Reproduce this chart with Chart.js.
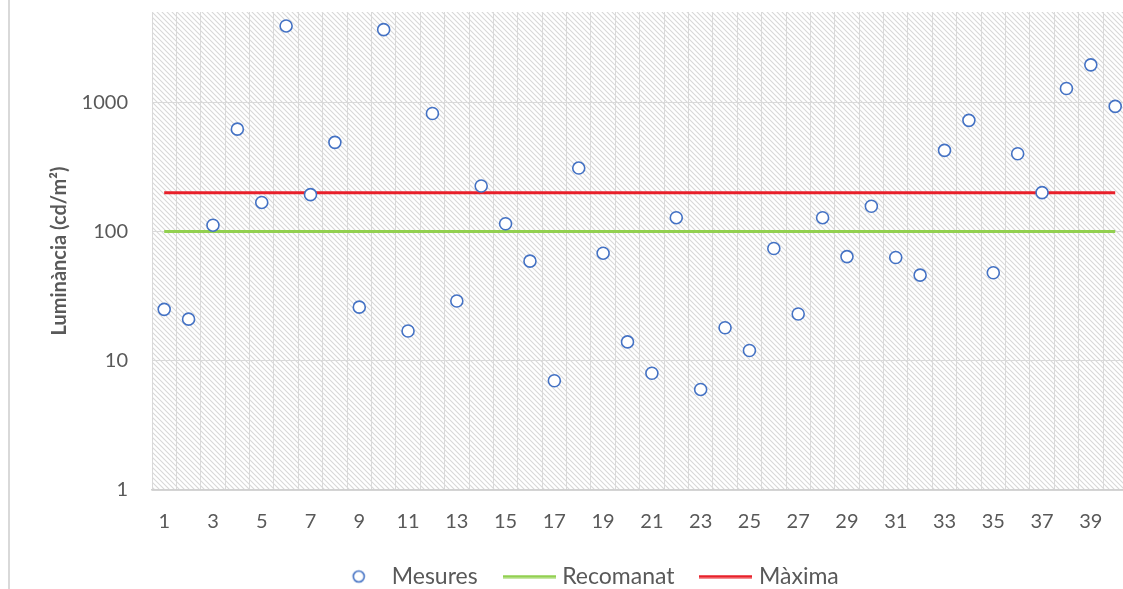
<!DOCTYPE html>
<html>
<head>
<meta charset="utf-8">
<script src="https://cdn.jsdelivr.net/npm/chart.js@4"></script>
<style>
    html, body { margin: 0; padding: 0; background: #fff; overflow: hidden; }
    #wrap { position: relative; width: 1135px; height: 598px; }
</style>
</head>
<body>
<div id="wrap"><canvas id="myChart" width="1135" height="598"></canvas></div>
<script>
// categories (measurement number)
let categories = [1, 2, 3, 4, 5, 6, 7, 8, 9, 10, 11, 12, 13, 14, 15, 16, 17, 18, 19, 20,
    21, 22, 23, 24, 25, 26, 27, 28, 29, 30, 31, 32, 33, 34, 35, 36, 37, 38, 39, 40];

// luminance readings, cd/m2
let mesures = [25, 21, 112, 620, 168, 3900, 193, 490, 26, 3650, 17, 820, 29, 225, 115, 59, 7, 310, 68, 14,
    8, 128, 6, 18, 12, 74, 23, 128, 64, 157, 63, 46, 425, 725, 48, 400, 200, 1280, 1950, 930];

let recomanat = [100, 100, 100, 100, 100, 100, 100, 100, 100, 100, 100, 100, 100, 100, 100, 100, 100, 100, 100, 100,
    100, 100, 100, 100, 100, 100, 100, 100, 100, 100, 100, 100, 100, 100, 100, 100, 100, 100, 100, 100];
let maxima = [200, 200, 200, 200, 200, 200, 200, 200, 200, 200, 200, 200, 200, 200, 200, 200, 200, 200, 200, 200,
    200, 200, 200, 200, 200, 200, 200, 200, 200, 200, 200, 200, 200, 200, 200, 200, 200, 200, 200, 200];

let yTicks = [1, 10, 100, 1000];
let yMin = 1;
let yMax = 5000;

const blue = '#4472C4';
const green = '#92D050';
const red = '#E8202A';
const textGray = '#595959';

// small canvases used as legend symbols
function makeCircle() {
    const c = document.createElement('canvas');
    c.width = 16; c.height = 16;
    const g = c.getContext('2d');
    g.beginPath();
    g.arc(8, 8, 5.5, 0, Math.PI * 2);
    g.fillStyle = '#fff';
    g.fill();
    g.lineWidth = 1.6;
    g.strokeStyle = blue;
    g.stroke();
    return c;
}
function makeLine(color) {
    const c = document.createElement('canvas');
    c.width = 53; c.height = 4;
    const g = c.getContext('2d');
    g.fillStyle = color;
    g.fillRect(0, 0.5, 53, 3);
    return c;
}

// hatched plot background
function makeHatch(ctx) {
    const p = document.createElement('canvas');
    p.width = 5; p.height = 5;
    const g = p.getContext('2d');
    g.fillStyle = '#fff';
    g.fillRect(0, 0, 5, 5);
    g.strokeStyle = '#d8d8d8';
    g.lineWidth = 1.1;
    g.beginPath();
    g.moveTo(-1, -1); g.lineTo(6, 6);
    g.moveTo(-4, 1); g.lineTo(4, 9);
    g.moveTo(1, -4); g.lineTo(9, 4);
    g.stroke();
    return ctx.createPattern(p, 'repeat');
}

const backdrop = {
    id: 'backdrop',
    beforeDraw(chart) {
        const { ctx, chartArea: a } = chart;
        ctx.save();
        ctx.fillStyle = makeHatch(ctx);
        ctx.fillRect(a.left, a.top, a.right - a.left, a.bottom - a.top);
        // left border of the original chart frame
        ctx.strokeStyle = '#d9d9d9';
        ctx.lineWidth = 2;
        ctx.beginPath();
        ctx.moveTo(9, 0);
        ctx.lineTo(9, chart.height);
        ctx.stroke();
        ctx.restore();
    }
};

const symbols = [makeCircle(), makeLine(green), makeLine(red)];

window.addEventListener("DOMContentLoaded", () => {
    const ctx = document.getElementById('myChart');

    new Chart(ctx, {
        type: 'line',
        data: {
            labels: categories,
            datasets: [{
                label: 'Mesures',
                data: mesures,
                showLine: false,
                pointRadius: 6,
                pointBorderWidth: 1.6,
                pointBorderColor: blue,
                pointBackgroundColor: '#fff',
                borderColor: blue,
                order: 0
            }, {
                label: 'Recomanat',
                data: recomanat,
                borderColor: green,
                borderWidth: 3,
                pointRadius: 0,
                order: 1
            }, {
                label: 'Màxima',
                data: maxima,
                borderColor: red,
                borderWidth: 3,
                pointRadius: 0,
                order: 1
            }]
        },
        options: {
            responsive: false,
            animation: false,
            layout: { padding: { left: 48, right: 7, top: 0, bottom: 0 } },
            plugins: {
                tooltip: { enabled: false },
                legend: {
                    position: 'bottom',
                    labels: {
                        usePointStyle: true,
                        pointStyleWidth: 43,
                        padding: 30,
                        color: textGray,
                        font: { family: 'Lato', size: 23 },
                        generateLabels: (chart) => chart.data.datasets.map((ds, i) => ({
                            text: ds.label,
                            pointStyle: symbols[i],
                            fontColor: textGray,
                            datasetIndex: i,
                            hidden: false
                        }))
                    }
                }
            },
            scales: {
                x: {
                    offset: true,
                    grid: { offset: true, color: '#d9d9d9', drawTicks: true, tickLength: 20, tickColor: 'rgba(0,0,0,0)' },
                    border: { color: '#d0d0d0', width: 1.5 },
                    afterFit: (s) => { s.height = 45; },
                    ticks: {
                        autoSkip: false,
                        maxRotation: 0,
                        padding: 0,
                        color: textGray,
                        font: { family: 'Lato', size: 20 },
                        callback: (v, i) => (i % 2 === 0 ? categories[i] : '')
                    }
                },
                y: {
                    type: 'logarithmic',
                    min: yMin,
                    max: yMax,
                    afterBuildTicks: (s) => { s.ticks = yTicks.map(v => ({ value: v })); },
                    afterFit: (s) => { s.width = 104; },
                    grid: { color: '#d9d9d9', drawTicks: true, tickLength: 24, tickColor: 'rgba(0,0,0,0)' },
                    border: { display: false },
                    ticks: {
                        padding: 0,
                        color: textGray,
                        font: { family: 'Lato', size: 20 },
                        callback: (v) => String(v)
                    },
                    title: {
                        display: true,
                        text: 'Luminància (cd/m²)',
                        color: textGray,
                        padding: { top: 0, bottom: 0 },
                        font: { family: 'Lato', size: 20, weight: 'bold' }
                    }
                }
            }
        },
        plugins: [backdrop]
    });
});
</script>
</body>
</html>
